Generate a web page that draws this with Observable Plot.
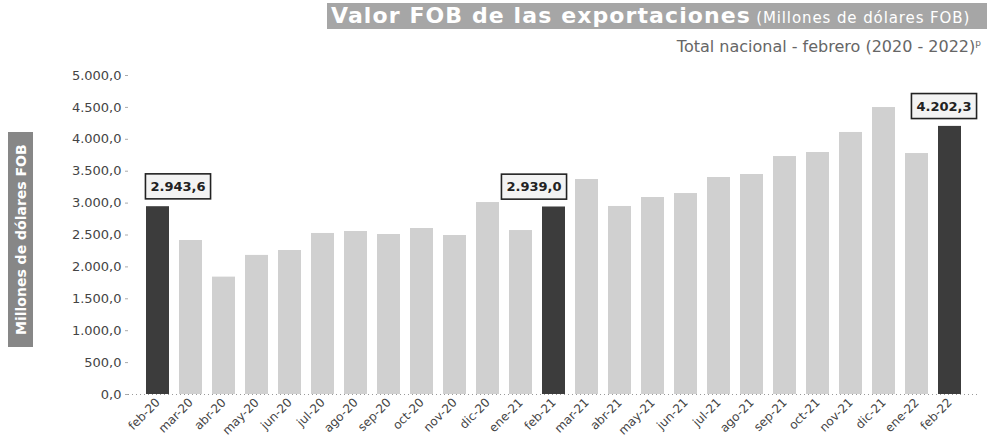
<!DOCTYPE html>
<html><head><meta charset="utf-8">
<script src="https://cdn.jsdelivr.net/npm/d3@7"></script>
<script src="https://cdn.jsdelivr.net/npm/@observablehq/plot@0.6"></script>
<style>
body{margin:0;background:#fff;}
#wrap{position:relative;width:987px;height:444px;overflow:hidden;font-family:"DejaVu Sans",sans-serif;}
#header{height:60px;position:relative;}
#title{position:absolute;left:327px;top:3px;width:660px;height:26px;background:#a6a6a6;color:#fff;white-space:nowrap;line-height:26px;overflow:hidden;}
#title b{font-size:22px;letter-spacing:1.1px;margin-left:4px;}
#title span{font-size:15px;letter-spacing:0.9px;}
#subtitle{position:absolute;right:6px;top:37px;font-size:16px;color:#666;white-space:nowrap;}
#subtitle sup{font-size:9px;}
#ylab{position:absolute;left:8px;top:132px;width:25px;height:215px;background:#878787;color:#fff;font-weight:bold;font-size:14px;writing-mode:vertical-rl;transform:rotate(180deg);display:flex;align-items:center;justify-content:center;white-space:nowrap;}
</style></head>
<body><div id="wrap">
<div id="header">
<div id="title"><b>Valor FOB de las exportaciones</b> <span>(Millones de dólares FOB)</span></div>
<div id="subtitle">Total nacional - febrero (2020 - 2022)<sup>p</sup></div>
</div>
<div id="chart"></div>
<div id="ylab">Millones de dólares FOB</div>
</div>
<script>
const months = ["feb-20","mar-20","abr-20","may-20","jun-20","jul-20","ago-20","sep-20","oct-20","nov-20","dic-20","ene-21","feb-21","mar-21","abr-21","may-21","jun-21","jul-21","ago-21","sep-21","oct-21","nov-21","dic-21","ene-22","feb-22"];
const values = [2943.6,2414,1840,2180,2257,2524,2555,2508,2602,2492,3009,2570,2939.0,3370,2947,3088,3150,3401,3448,3730,3793,4107,4498,3777,4202.3];
const highlighted = ["feb-20","feb-21","feb-22"];
const yTicks = [0,500,1000,1500,2000,2500,3000,3500,4000,4500,5000];

const locale = d3.formatLocale({decimal:",",thousands:".",grouping:[3],currency:["",""]});
const fmt = locale.format(",.1f");
const data = months.map((m,i)=>({month:m,value:values[i],hi:highlighted.includes(m)}));
const labelDx = {"feb-20":20,"feb-21":-20,"feb-22":-6};

const chart = Plot.plot({
  width:987, height:384,
  marginTop:15, marginBottom:50, marginLeft:128, marginRight:9,
  style:{fontFamily:"DejaVu Sans, sans-serif", fontSize:"12px", color:"#444", background:"transparent", overflow:"visible"},
  x:{domain:months, padding:0.315},
  y:{domain:[0,5000]},
  marks:[
    Plot.barY(data.filter(d=>!d.hi),{x:"month",y:"value",fill:"#d0d0d0"}),
    Plot.barY(data.filter(d=>d.hi),{x:"month",y:"value",fill:"#3c3c3c"}),
    Plot.ruleY([0],{stroke:"#999",strokeDasharray:"1,3"}),
    Plot.axisY({ticks:yTicks,tickFormat:fmt,label:null,tickSize:3,tickPadding:4,fontSize:13,stroke:"#aaa"}),
    Plot.axisX({label:null,tickSize:0,tickPadding:6,tickRotate:-45,fontSize:12}),
    ...data.filter(d=>d.hi).map(d=>Plot.text([d],{x:"month",y:"value",text:v=>fmt(v.value),dy:-20,dx:labelDx[d.month],fontWeight:"bold",fontSize:13,fill:"#222",lineAnchor:"middle"}))
  ]
});
document.getElementById("chart").appendChild(chart);

// draw boxes around the value labels
const labelSet = new Set(data.filter(d=>d.hi).map(d=>fmt(d.value)));
chart.querySelectorAll("text").forEach(t=>{
  if(!labelSet.has(t.textContent)) return;
  const b = t.getBBox();
  const ctm = t.getAttribute("transform");
  const r = document.createElementNS("http://www.w3.org/2000/svg","rect");
  r.setAttribute("x", b.x-5); r.setAttribute("y", b.y-5);
  r.setAttribute("width", b.width+10); r.setAttribute("height", b.height+10);
  r.setAttribute("fill","#f3f3f3"); r.setAttribute("stroke","#222"); r.setAttribute("stroke-width","1.6");
  if(ctm) r.setAttribute("transform", ctm);
  t.parentNode.insertBefore(r,t);
});
</script>
</body></html>
